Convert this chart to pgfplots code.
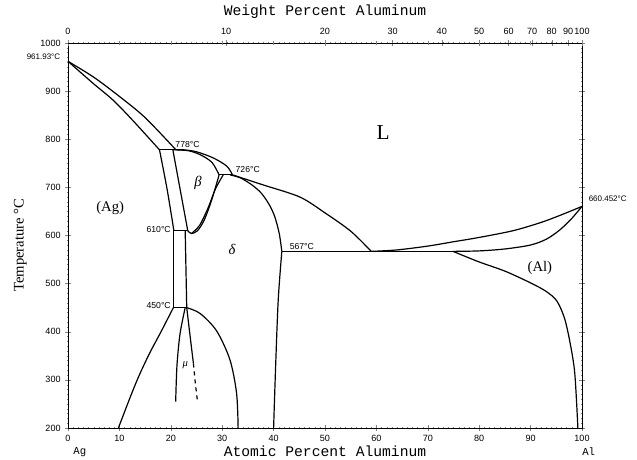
\documentclass[border=0pt]{standalone}
\usepackage{fontspec}
\setmainfont{Liberation Serif}
\setsansfont{Liberation Sans}
\setmonofont{Liberation Mono}
\usepackage{pgfplots}
\pgfplotsset{compat=1.18}
\pgfplotsset{pl/.style={black, solid, line width=0.9pt, mark=none},
  cv/.style={pl, smooth, tension=0.5}}
\begin{document}
\begin{tikzpicture}
\useasboundingbox (-51pt,-24pt) rectangle (426.75pt,321pt);
\begin{axis}[name=ax, at={(0,0)}, anchor=south west, scale only axis,
  width=385.5pt, height=288.75pt,
  xmin=0, xmax=100, ymin=200, ymax=1000,
  xtick={0,10,...,100}, minor x tick num=9,
  ytick={200,300,...,1000}, minor y tick num=9,
  xtick pos=bottom, ytick pos=both, yticklabel pos=left,
  tick align=center, major tick length=4pt, minor tick length=2pt,
  /pgf/number format/assume math mode=true,
  /pgf/number format/set thousands separator={},
  tick label style={font=\sffamily\fontsize{6.8}{8}\selectfont},
  clip=false, axis line style={line width=0.6pt}]
% Ag liquidus and solidus
\addplot[cv] coordinates {(0,961.93) (5,929) (10,889) (15,845) (21,778)};
\addplot[cv] coordinates {(0,961.93) (4.9,916) (8.8,881) (12.7,838) (17.8,778)};
% 778 peritectic
\addplot[pl] coordinates {(17.8,778) (21,778)};
% (Ag) solvus upper
\addplot[cv] coordinates {(17.8,778) (19.3,695) (20.6,610)};
\addplot[pl] coordinates {(20.5,610) (20.5,450)};
% 610 eutectoid
\addplot[pl] coordinates {(20.5,610) (23.3,610)};
% beta left
\addplot[pl] coordinates {(20.4,778) (23.3,610)};
% box right
\addplot[pl] coordinates {(22.8,610) (23.1,450)};
% beta lower / right
\addplot[cv] coordinates {(23.3,610) (24.0,604) (25.2,610) (26.5,632) (27.9,672) (29.4,726)};
\addplot[cv] coordinates {(24.0,604) (25.6,621) (27.2,656) (28.7,697) (30.2,726)};
% beta upper (solidus) and liquidus
\addplot[cv] coordinates {(21,778) (23.5,776) (25.7,768) (28.0,752) (29.4,726)};
\addplot[cv] coordinates {(20.4,778) (22.5,778) (25.0,774) (28.3,761) (30.9,744) (32.0,726)};
% 726 peritectic
\addplot[pl] coordinates {(29.4,726) (32.0,726)};
% liquidus to eutectic
\addplot[cv] coordinates {(32.0,726) (38,705) (45.1,680) (50,647) (55,609) (59,567)};
% delta solidus / right boundary
\addplot[cv] coordinates {(31.5,726) (33.5,720) (35.8,705) (37.6,688) (39.1,665) (40.2,640) (41.1,604) (41.6,567)};
\addplot[cv] coordinates {(41.6,567) (40.9,466) (40.4,330) (40.0,200)};
% 567 eutectic
\addplot[pl] coordinates {(41.6,567) (74.9,567)};
% Al liquidus, solidus, solvus
\addplot[cv] coordinates {(59,567) (64,570) (70,578) (75,587) (80,596) (86.6,610) (92,627) (96,643) (100,660.452)};
\addplot[cv] coordinates {(74.9,567) (80,568) (85,572) (89.9,580) (93,592) (95.5,610) (97.8,633) (100,660.452)};
\addplot[cv] coordinates {(74.9,567) (80,545) (85,526) (89.9,502) (93,484) (95.1,464) (96.6,428) (97.7,376) (98.6,313) (99.2,200)};
% 450 eutectoid
\addplot[pl] coordinates {(20.5,450) (23.1,450)};
% (Ag) solvus lower
\addplot[cv] coordinates {(20.5,450) (17.9,396) (16.0,358) (14.0,313) (12.4,272) (9.8,200)};
% mu
\addplot[cv] coordinates {(22.8,450) (21.8,396) (21.2,330) (20.95,255)};
\addplot[cv] coordinates {(23.1,450) (23.7,396) (24.4,334)};
\addplot[pl, dashed] coordinates {(24.4,334) (24.8,290) (25.2,255)};
% delta solvus lower
\addplot[cv] coordinates {(23.1,450) (25.7,438) (28.9,402) (31.5,342) (32.8,272) (33.1,200)};
% temperature labels
\node[font=\sffamily\fontsize{6}{7}\selectfont, anchor=east] at (axis cs:-0.6,971) {961.93°C};
\node[font=\sffamily\fontsize{6}{7}\selectfont, anchor=west] at (axis cs:100.4,676) {660.452°C};
\node[font=\sffamily\fontsize{6.5}{7}\selectfont, anchor=south west, inner sep=1pt] at (axis cs:20.6,779) {778°C};
\node[font=\sffamily\fontsize{6.5}{7}\selectfont, anchor=south west, inner sep=1pt] at (axis cs:32.3,727) {726°C};
\node[font=\sffamily\fontsize{6.5}{7}\selectfont, anchor=east, inner sep=1pt] at (axis cs:20.3,612) {610°C};
\node[font=\sffamily\fontsize{6.5}{7}\selectfont, anchor=east, inner sep=1pt] at (axis cs:20.3,455) {450°C};
\node[font=\sffamily\fontsize{6.5}{7}\selectfont, anchor=south, inner sep=1pt] at (axis cs:45.5,568) {567°C};
% phase labels
\node[font=\fontsize{16}{18}\selectfont] at (axis cs:61.3,813) {L};
\node[font=\fontsize{11}{13}\selectfont] at (axis cs:8.2,657) {(Ag)};
\node[font=\fontsize{11}{13}\selectfont\itshape] at (axis cs:25.3,709) {β};
\node[font=\fontsize{11}{13}\selectfont\itshape] at (axis cs:31.9,570) {δ};
\node[font=\fontsize{11}{13}\selectfont] at (axis cs:91.8,532) {(Al)};
\node[font=\fontsize{8}{9}\selectfont\itshape] at (axis cs:22.8,330) {μ};
% axis titles
\node[font=\ttfamily\fontsize{11}{13}\selectfont] at (axis cs:50,152) {Atomic Percent Aluminum};
\node[font=\ttfamily\fontsize{11}{13}\selectfont] at (axis cs:50,1064) {Weight Percent Aluminum};
\node[font=\fontsize{11}{13}\selectfont, rotate=90] at (axis cs:-9.3,580) {Temperature °C};
\node[font=\ttfamily\fontsize{8}{9}\selectfont] at (axis cs:2.3,150) {Ag};
\node[font=\ttfamily\fontsize{8}{9}\selectfont] at (axis cs:101.3,150) {Al};
\end{axis}
\begin{axis}[at={(0,0)}, anchor=south west, scale only axis,
  width=385.5pt, height=288.75pt,
  xmin=0, xmax=100, ymin=200, ymax=1000,
  axis x line*=top, axis y line=none,
  xtick={0,30.76,49.99,63.15,72.72,79.99,85.71,90.32,94.11,97.30,100},
  xticklabels={0,10,20,30,40,50,60,70,80,90,100},
  minor xtick={0,1,...,100},
  extra x ticks={10,20,30,40,50,60,70,80,90},
  extra x tick labels={},
  extra x tick style={major tick length=3pt},
  tick align=center, major tick length=5pt, minor tick length=2pt,
  /pgf/number format/assume math mode=true,
  tick label style={font=\sffamily\fontsize{6.8}{8}\selectfont},
  axis line style={line width=0.6pt}]
\addplot[draw=none] coordinates {(0,500) (100,500)};
\end{axis}
\end{tikzpicture}
\end{document}
